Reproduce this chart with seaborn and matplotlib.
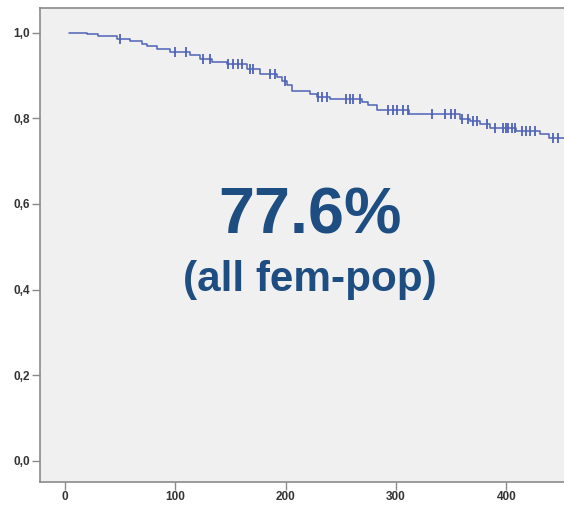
"""Kaplan-Meier style survival curve, all fem-pop."""

import matplotlib
matplotlib.use('Agg')
import matplotlib.pyplot as plt
import numpy as np
import seaborn as sns
from matplotlib.ticker import FuncFormatter

# step times (days) and survival after each step
event_times = [4, 20, 30, 47, 59, 70, 74, 83, 95, 113, 122, 133, 147, 165, 177,
               192, 197, 201, 206, 222, 228, 240, 269, 275, 283, 312, 358, 367,
               376, 385, 409, 430, 439, 470]
survival = [1.0, 0.996, 0.993, 0.986, 0.980, 0.974, 0.968, 0.962, 0.954, 0.947,
            0.939, 0.931, 0.926, 0.916, 0.904, 0.897, 0.887, 0.877, 0.864, 0.857,
            0.851, 0.846, 0.837, 0.831, 0.820, 0.809, 0.799, 0.793, 0.787, 0.778,
            0.770, 0.763, 0.755, 0.755]

# censored observations (tick marks)
censor_times = [50, 100, 110, 125, 131, 148, 152, 157, 160, 168, 170, 186, 190,
                199, 229, 233, 237, 255, 258, 261, 267, 293, 297, 301, 306, 311,
                333, 344, 350, 353, 360, 365, 370, 373, 382, 390, 397, 400, 401,
                405, 408, 414, 418, 421, 426, 442, 447]

x_ticks = [0, 100, 200, 300, 400]
y_ticks = [0.0, 0.2, 0.4, 0.6, 0.8, 1.0]
big_label = "77.6%"
sub_label = "(all fem-pop)"

line_color = '#4f62b6'
text_color = '#1e4d82'
axis_gray = '#8a8a8a'

sns.set_style('white')
plt.rcParams['font.family'] = ['Liberation Sans', 'DejaVu Sans']

fig = plt.figure(figsize=(5.64, 5.05), dpi=100)
ax = fig.add_axes([0.0709, 0.0461, 0.964, 0.9374])
ax.set_facecolor('#f0f0f0')

# survival at each censor time from the step function
idx = np.searchsorted(event_times, censor_times, side='right') - 1
censor_surv = np.array(survival)[idx]

sns.lineplot(x=event_times, y=survival, drawstyle='steps-post', color=line_color,
             linewidth=1.1, ax=ax, sort=True)
sns.scatterplot(x=censor_times, y=censor_surv, marker='|', s=60, linewidth=1.3,
                color=line_color, ax=ax, zorder=3)

ax.set_xlim(-22.6, 470)
ax.set_ylim(-0.049, 1.057)
ax.set_xticks(x_ticks)
ax.set_yticks(y_ticks)
ax.yaxis.set_major_formatter(FuncFormatter(lambda v, p: f"{v:.1f}".replace('.', ',')))
ax.tick_params(axis='both', direction='out', length=6, width=1.0, color=axis_gray,
               labelsize=8.5, labelcolor='#333333', pad=1,
               bottom=True, left=True)
for lbl in ax.get_xticklabels() + ax.get_yticklabels():
    lbl.set_fontweight('bold')

for side in ['left', 'bottom', 'top']:
    ax.spines[side].set_color(axis_gray)
    ax.spines[side].set_linewidth(1.2)
ax.spines['right'].set_visible(False)

ax.set_xlabel('')
ax.set_ylabel('')

ax.text(222, 0.532, big_label, ha='center', va='baseline', fontsize=46.5,
        fontweight='bold', color=text_color)
ax.text(222, 0.396, sub_label, ha='center', va='baseline', fontsize=30.4,
        fontweight='bold', color=text_color)

plt.savefig('out.png', dpi=100)
